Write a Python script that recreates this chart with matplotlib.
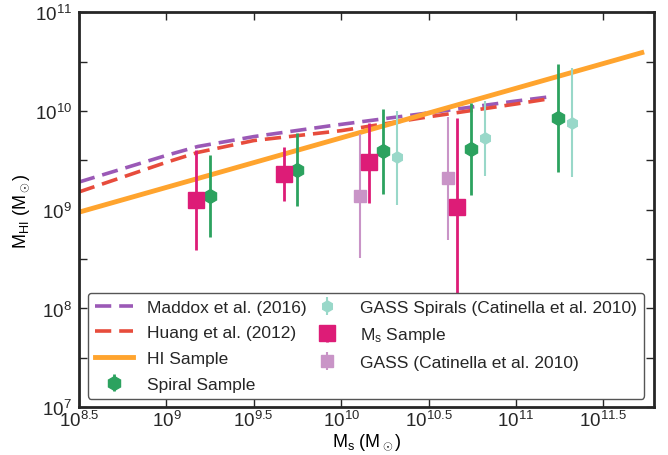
import numpy as np
import matplotlib
matplotlib.use('Agg')
import matplotlib.pyplot as plt
from matplotlib.ticker import FixedLocator, NullFormatter

plt.rcParams['font.family'] = ['Liberation Sans', 'DejaVu Sans']
plt.rcParams['mathtext.fontset'] = 'custom'
plt.rcParams['mathtext.rm'] = 'Liberation Sans'
plt.rcParams['mathtext.it'] = 'Liberation Sans:italic'
plt.rcParams['mathtext.sf'] = 'Liberation Sans'
plt.rcParams['text.color'] = '#262626'

# scaling relations (log10 Ms, log10 MHI)
maddox_x = [8.5, 9.0, 9.18, 9.5, 9.94, 10.5, 11.0, 11.18]
maddox_y = [9.28, 9.55, 9.64, 9.74, 9.85, 9.98, 10.10, 10.14]
huang_x = [8.5, 9.0, 9.18, 9.5, 10.0, 10.5, 11.0, 11.18]
huang_y = [9.18, 9.48, 9.58, 9.70, 9.80, 9.94, 10.07, 10.12]
hi_x = [8.5, 11.72]
hi_y = [8.975, 10.59]

# binned samples: log Ms, log MHI, lower, upper
spiral_x = [9.25, 9.75, 10.24, 10.74, 11.24]
spiral_y = [9.14, 9.40, 9.59, 9.61, 9.93]
spiral_lo = [8.72, 9.04, 9.16, 9.15, 9.38]
spiral_hi = [9.55, 9.78, 10.02, 10.08, 10.47]

ms_x = [9.17, 9.67, 10.16, 10.66]
ms_y = [9.10, 9.36, 9.48, 9.03]
ms_lo = [8.59, 9.09, 9.07, 8.13]
ms_hi = [9.60, 9.63, 9.88, 9.93]

gass_sp_x = [10.32, 10.82, 11.32]
gass_sp_y = [9.53, 9.73, 9.88]
gass_sp_lo = [9.05, 9.34, 9.33]
gass_sp_hi = [10.00, 10.10, 10.43]

gass_x = [10.11, 10.61]
gass_y = [9.14, 9.32]
gass_lo = [8.51, 8.69]
gass_hi = [9.77, 9.94]

xticks = [8.5, 9, 9.5, 10, 10.5, 11, 11.5]
xlabels = ['8.5', '9', '9.5', '10', '10.5', '11', '11.5']
yticks = [7, 8, 9, 10, 11]


def lin(v):
    return 10 ** np.asarray(v, dtype=float)


def errs(y, lo, hi):
    y = lin(y)
    return [y - lin(lo), lin(hi) - y]


fig = plt.figure(figsize=(6.68, 4.56), dpi=100)
ax = fig.add_axes([0.1183, 0.1047, 0.8608, 0.8665])

ax.plot(lin(maddox_x), lin(maddox_y), '--', color='#9b59b6', lw=2.6,
        dashes=(4.5, 2.2), label='Maddox et al. (2016)')
ax.plot(lin(huang_x), lin(huang_y), '--', color='#e74c3c', lw=2.6,
        dashes=(4.5, 2.2), label='Huang et al. (2012)')
ax.plot(lin(hi_x), lin(hi_y), '-', color='#ffa42e', lw=3.5, label='HI Sample')

ax.errorbar(lin(spiral_x), lin(spiral_y), yerr=errs(spiral_y, spiral_lo, spiral_hi),
            fmt='h', color='#2ca25f', ms=10, lw=2, capsize=0, label='Spiral Sample')
ax.errorbar(lin(gass_sp_x), lin(gass_sp_y), yerr=errs(gass_sp_y, gass_sp_lo, gass_sp_hi),
            fmt='h', color='#99d8c9', ms=8, lw=1.5, capsize=0,
            label='GASS Spirals (Catinella et al. 2010)')
ax.errorbar(lin(ms_x), lin(ms_y), yerr=errs(ms_y, ms_lo, ms_hi),
            fmt='s', color='#dd1c77', ms=11, lw=2, capsize=0,
            label=r'M$_\mathregular{s}$ Sample')
ax.errorbar(lin(gass_x), lin(gass_y), yerr=errs(gass_y, gass_lo, gass_hi),
            fmt='s', color='#c994c7', ms=8.5, lw=1.5, capsize=0,
            label='GASS (Catinella et al. 2010)')

ax.set_xscale('log')
ax.set_yscale('log')
ax.set_xlim(10 ** 8.5, 10 ** 11.79)
ax.set_ylim(1e7, 1e11)

ax.xaxis.set_major_locator(FixedLocator(lin(xticks)))
ax.set_xticklabels([r'$\mathregular{10^{%s}}$' % s for s in xlabels])
ax.xaxis.set_minor_locator(FixedLocator([]))
ax.yaxis.set_major_locator(FixedLocator(lin(yticks)))
ax.set_yticklabels([r'$\mathregular{10^{%d}}$' % v for v in yticks])
ax.yaxis.set_minor_locator(FixedLocator(lin([7.5, 8.5, 9.5, 10.5])))
ax.yaxis.set_minor_formatter(NullFormatter())

ax.tick_params(which='both', direction='in', top=True, right=True,
               length=6, width=1, labelsize=13.5, colors='#262626')
ax.tick_params(axis='x', pad=2)
ax.tick_params(axis='y', pad=5)
for sp in ax.spines.values():
    sp.set_linewidth(2)
    sp.set_color('#262626')

ax.set_xlabel(r'M$_\mathregular{s}$ (M$_\odot$)', fontsize=13, labelpad=1)
ax.set_ylabel(r'M$_\mathregular{HI}$ (M$_\odot$)', fontsize=13, labelpad=2)

handles, labels = ax.get_legend_handles_labels()
leg = ax.legend(handles, labels,
                loc='lower left', ncol=2, fontsize=12.5, frameon=True,
                fancybox=True, edgecolor='#555555', framealpha=1,
                handlelength=2.2, handletextpad=0.8, columnspacing=0.1,
                labelspacing=0.6, borderaxespad=0.5, borderpad=0.4)
leg.get_frame().set_linewidth(1)

fig.savefig('out.png', dpi=100)
